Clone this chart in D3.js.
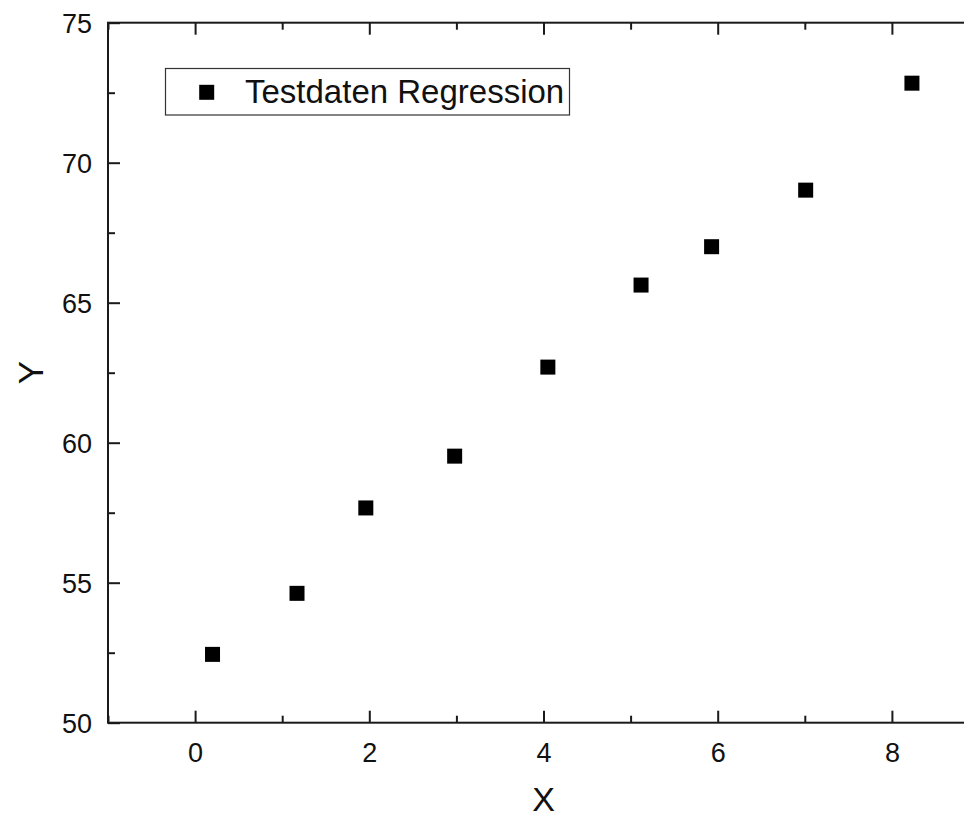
<!DOCTYPE html>
<html>
<head>
<meta charset="utf-8">
<script src="https://cdn.jsdelivr.net/npm/d3@7"></script>
<style>
  html, body { margin: 0; padding: 0; background: #fff; }
  svg { display: block; font-family: "Liberation Sans", Arial, sans-serif; }
</style>
</head>
<body>
<svg id="chart" width="964" height="819"></svg>
<script>
// ---- data ----
const xValues = [0.20, 1.17, 1.96, 2.98, 4.05, 5.12, 5.93, 7.01, 8.23];
const yValues = [52.44, 54.62, 57.67, 59.52, 62.70, 65.63, 67.00, 69.02, 72.84];
const xMajorTicks = [0, 2, 4, 6, 8];
const xMinorTicks = [-1, 1, 3, 5, 7, 9];
const yMajorTicks = [50, 55, 60, 65, 70, 75];
const yMinorTicks = [52.5, 57.5, 62.5, 67.5, 72.5];
const seriesName = "Testdaten Regression";
const xTitle = "X";
const yTitle = "Y";

// ---- layout ----
const svg = d3.select("#chart");
const L = 108, T = 22.7, R = 979, B = 722.7;
const x = d3.scaleLinear().domain([-1, 9]).range([L, R]);
const y = d3.scaleLinear().domain([50, 75]).range([B, T]);
const axisColor = "#1a1a1a";
const majorLen = 12, minorLen = 7;

function styleAxis(g) {
  g.select(".domain").remove();
  g.selectAll(".tick line").attr("stroke", axisColor).attr("stroke-width", 2);
  g.selectAll(".tick text").attr("fill", "#111").attr("font-family", "Liberation Sans, Arial, sans-serif");
}

// bottom axis (labels) - major
svg.append("g").attr("transform", `translate(0,${B})`)
  .call(d3.axisBottom(x).tickValues(xMajorTicks).tickSizeInner(-majorLen).tickSizeOuter(0).tickPadding(0).tickFormat(d3.format("d")))
  .call(styleAxis)
  .call(g => g.selectAll(".tick text").attr("font-size", 27).attr("dy", null).attr("y", 39.5));
svg.append("g").attr("transform", `translate(0,${B})`)
  .call(d3.axisBottom(x).tickValues(xMinorTicks).tickSizeInner(-minorLen).tickSizeOuter(0).tickFormat(""))
  .call(styleAxis);
// top axis
svg.append("g").attr("transform", `translate(0,${T})`)
  .call(d3.axisTop(x).tickValues(xMajorTicks).tickSizeInner(-majorLen).tickSizeOuter(0).tickFormat(""))
  .call(styleAxis);
svg.append("g").attr("transform", `translate(0,${T})`)
  .call(d3.axisTop(x).tickValues(xMinorTicks).tickSizeInner(-minorLen).tickSizeOuter(0).tickFormat(""))
  .call(styleAxis);
// left axis
svg.append("g").attr("transform", `translate(${L},0)`)
  .call(d3.axisLeft(y).tickValues(yMajorTicks).tickSizeInner(-majorLen).tickSizeOuter(0).tickPadding(0).tickFormat(d3.format("d")))
  .call(styleAxis)
  .call(g => g.selectAll(".tick text").attr("font-size", 27).attr("x", -16).attr("dy", "0.35em"));
svg.append("g").attr("transform", `translate(${L},0)`)
  .call(d3.axisLeft(y).tickValues(yMinorTicks).tickSizeInner(-minorLen).tickSizeOuter(0).tickFormat(""))
  .call(styleAxis);
// right axis
svg.append("g").attr("transform", `translate(${R},0)`)
  .call(d3.axisRight(y).tickValues(yMajorTicks).tickSizeInner(-majorLen).tickSizeOuter(0).tickFormat(""))
  .call(styleAxis);
svg.append("g").attr("transform", `translate(${R},0)`)
  .call(d3.axisRight(y).tickValues(yMinorTicks).tickSizeInner(-minorLen).tickSizeOuter(0).tickFormat(""))
  .call(styleAxis);

// frame
svg.append("rect").attr("x", L).attr("y", T).attr("width", R - L).attr("height", B - T)
  .attr("fill", "none").attr("stroke", axisColor).attr("stroke-width", 2);

// points
const pts = xValues.map((v, i) => ({ x: v, y: yValues[i] }));
const ms = 15;
svg.append("g").selectAll("rect").data(pts).join("rect")
  .attr("x", d => x(d.x) - ms / 2)
  .attr("y", d => y(d.y) - ms / 2)
  .attr("width", ms).attr("height", ms)
  .attr("fill", "#000");

// axis titles
svg.append("text").attr("x", (L + R) / 2).attr("y", 811)
  .attr("text-anchor", "middle").attr("font-size", 34).attr("fill", "#111").text(xTitle);
svg.append("text").attr("transform", `translate(43,${(T + B) / 2}) rotate(-90)`)
  .attr("text-anchor", "middle").attr("font-size", 35).attr("fill", "#111").text(yTitle);

// legend
const lg = svg.append("g");
lg.append("rect").attr("x", 165.5).attr("y", 68.5).attr("width", 404).attr("height", 46.5)
  .attr("fill", "#fff").attr("stroke", "#333").attr("stroke-width", 1.2);
lg.append("rect").attr("x", 206.7 - ms / 2).attr("y", 92.3 - ms / 2).attr("width", ms).attr("height", ms).attr("fill", "#000");
lg.append("text").attr("x", 245).attr("y", 103).attr("font-size", 33).attr("fill", "#111").text(seriesName);
</script>
</body>
</html>
